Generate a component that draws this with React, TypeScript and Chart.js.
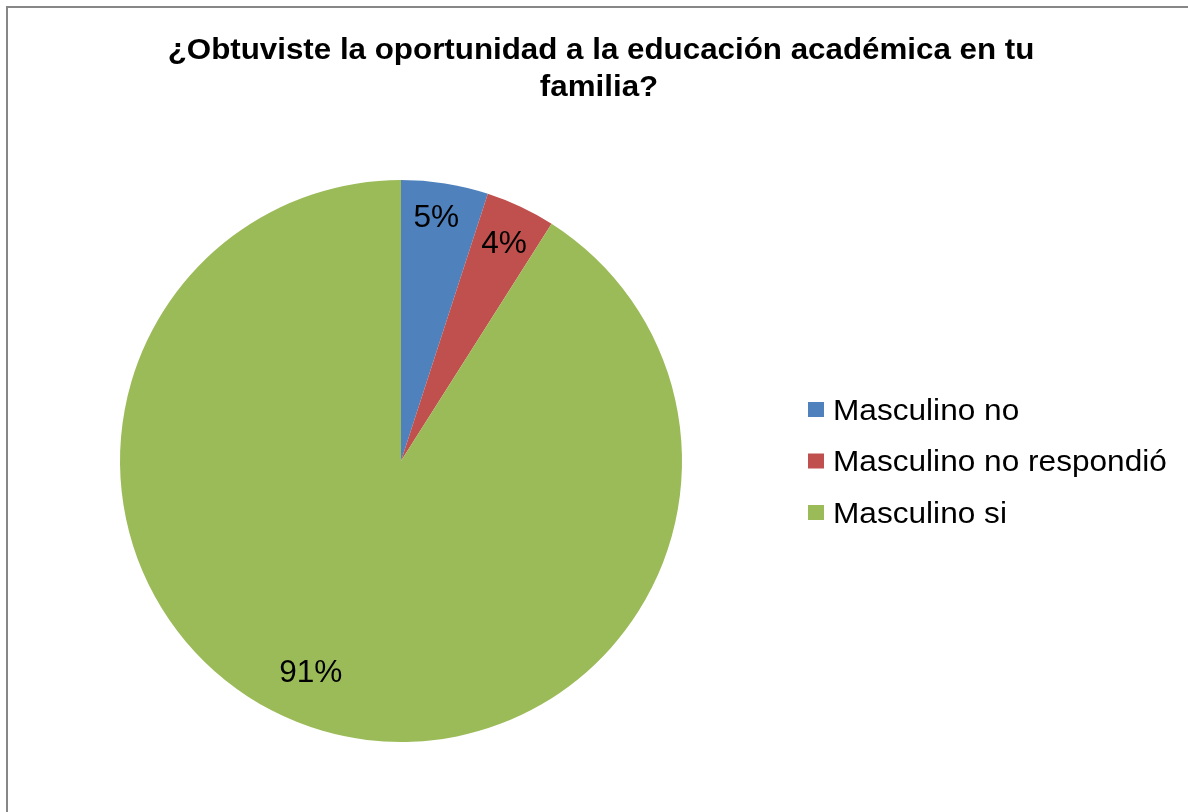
import React, { useEffect, useRef } from "react";
import { Chart, registerables } from "chart.js";

Chart.register(...registerables);

const titleLines = ["¿Obtuviste la oportunidad a la educación académica en tu", "familia?"];
const categories = ["Masculino no", "Masculino no respondió", "Masculino si"];
const percentValues = [5, 4, 91];
const sliceColors = ["#4F81BD", "#C0504D", "#9BBB59"];
const labelNudges = [[-3, -4], [-1, 2], [-22, -25]];

const FONT = "'Liberation Sans', Arial, sans-serif";

function drawScaledText(ctx: CanvasRenderingContext2D, text: string, x: number, y: number, font: string, sx: number, align: "left" | "center") {
  ctx.save();
  ctx.font = font;
  ctx.fillStyle = "#000";
  ctx.textBaseline = "alphabetic";
  ctx.textAlign = "left";
  const w = ctx.measureText(text).width * sx;
  const left = align === "center" ? x - w / 2 : x;
  ctx.translate(left, y);
  ctx.scale(sx, 1);
  ctx.fillText(text, 0, 0);
  ctx.restore();
}

const decorPlugin = {
  id: "decor",
  afterDatasetsDraw(chart: any) {
    const ctx = chart.ctx as CanvasRenderingContext2D;
    const meta = chart.getDatasetMeta(0);
    const total = percentValues.reduce((a, b) => a + b, 0);
    meta.data.forEach((arc: any, i: number) => {
      const mid = (arc.startAngle + arc.endAngle) / 2;
      const d = arc.outerRadius * 0.87;
      const x = arc.x + Math.cos(mid) * d + labelNudges[i][0];
      const y = arc.y + Math.sin(mid) * d + labelNudges[i][1];
      const txt = Math.round((percentValues[i] / total) * 100) + "%";
      drawScaledText(ctx, txt, x, y + 11.5, `31px ${FONT}`, 1.02, "center");
    });
    // title
    drawScaledText(ctx, titleLines[0], 601, 58.5, `bold 29px ${FONT}`, 1.08, "center");
    drawScaledText(ctx, titleLines[1], 599, 95.5, `bold 29px ${FONT}`, 1.08, "center");
    // legend
    const rows = [409.5, 461, 512.5];
    categories.forEach((c, i) => {
      ctx.save();
      ctx.fillStyle = sliceColors[i];
      ctx.fillRect(808, rows[i] - 7.5, 16, 15);
      ctx.restore();
      drawScaledText(ctx, c, 833, rows[i] + 10, `29px ${FONT}`, 1.09, "left");
    });
  },
};

export default function App() {
  const ref = useRef<HTMLCanvasElement>(null);
  useEffect(() => {
    document.body.style.margin = "0";
    document.body.style.overflow = "hidden";
    const chart = new Chart(ref.current!, {
      type: "pie",
      data: {
        labels: categories,
        datasets: [
          {
            data: percentValues,
            backgroundColor: sliceColors,
            borderWidth: 0,
          },
        ],
      },
      options: {
        responsive: false,
        animation: false,
        layout: { padding: { left: 120, top: 180, right: 506, bottom: 70 } },
        plugins: {
          legend: { display: false },
          title: { display: false },
          tooltip: { enabled: false },
        },
      },
      plugins: [decorPlugin],
    });
    return () => chart.destroy();
  }, []);
  return (
    <div style={{ position: "fixed", left: 0, top: 0, width: 1188, height: 812, overflow: "hidden", background: "#fff" }}>
      <div
        style={{
          position: "absolute",
          left: 6,
          top: 6,
          width: 1300,
          height: 900,
          borderLeft: "2px solid #878787",
          borderTop: "2px solid #878787",
        }}
      />
      <canvas ref={ref} width={1188} height={812} style={{ position: "absolute", left: 0, top: 0 }} />
    </div>
  );
}
